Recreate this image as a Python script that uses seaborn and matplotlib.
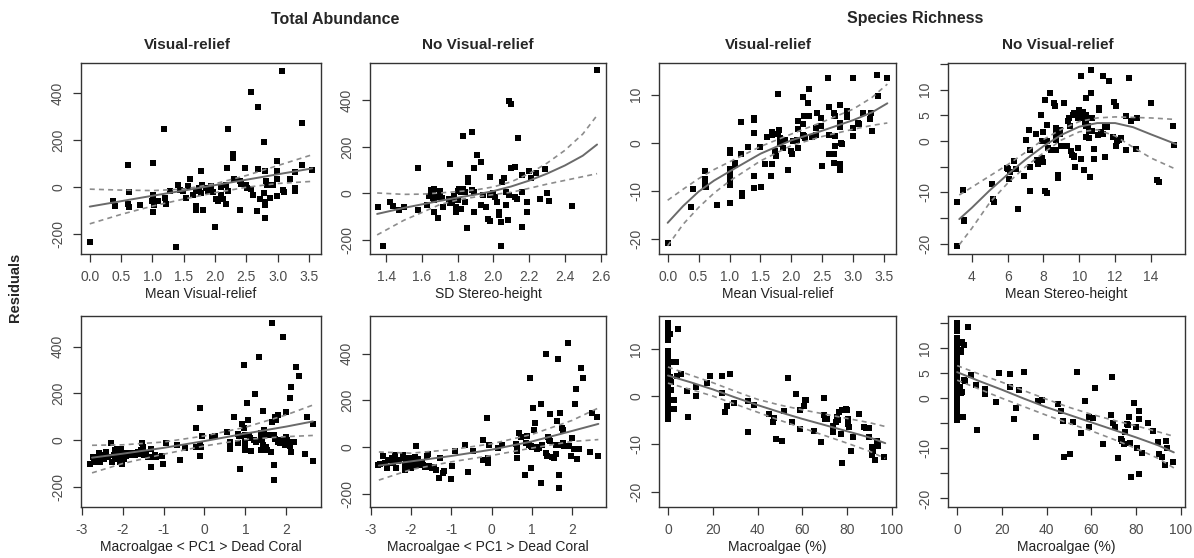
import numpy as np
import pandas as pd
import seaborn as sns
from matplotlib import pyplot as plt

# ---- Total abundance, visual-relief sites ----
ta_vr_x = [0.01, 0.37, 0.41, 0.61, 0.63, 0.61, 0.63, 0.8, 1.01, 1.01, 1.01, 1.0, 1.02, 1.09, 1.18, 1.2,
           1.22, 1.28, 1.38, 1.41, 1.44, 1.49, 1.54, 1.57, 1.6, 1.65, 1.7, 1.7, 1.7, 1.74, 1.77, 1.79,
           1.78, 1.8, 1.85, 1.89, 1.93, 2.0, 1.97, 2.01, 2.05, 2.09, 2.1, 2.13, 2.18, 2.19, 2.2, 2.21,
           2.18, 2.29, 2.29, 2.3, 2.39, 2.39, 2.41, 2.47, 2.49, 2.51, 2.58, 2.58, 2.61, 2.67, 2.68, 2.69,
           2.71, 2.78, 2.79, 2.79, 2.78, 2.79, 2.8, 2.82, 2.83, 2.88, 2.93, 2.98, 2.98, 2.99, 2.99, 3.07,
           3.09, 3.1, 3.19, 3.27, 3.27, 3.28, 3.38, 3.38, 3.54]
ta_vr_y = [-232, -59, -81, 96, -20, -73, -85, -76, 103, -105, -31, -59, -76, -59, 245, -45,
           -71, -17, -254, 11, -10, -17, -45, 4, 37, -31, -17, -81, -95, -3, -24, 8,
           68, -95, -3, -17, 4, -168, -20, -48, -59, -31, 0, -49, 11, 82, 249, -17,
           -69, 139, 122, 33, -98, 28, 14, 82, 8, -3, 403, -6, -31, -99, 341, 79,
           -48, 192, 68, -130, -24, -62, -76, 25, 8, -45, 11, 110, -38, 68, 33, 495,
           -10, -20, 33, 64, -3, -14, 273, 96, 75]
ta_vr_cx = [0.0, 0.5, 1.0, 1.5, 2.0, 2.5, 3.0, 3.55]
ta_vr_fit = [-82, -59, -36, -14, 9, 32, 55, 80]
ta_vr_hi = [-8, -12, -14, -8, 15, 50, 92, 138]
ta_vr_lo = [-155, -115, -80, -50, -23, 0, 16, 25]

# ---- Total abundance, no visual-relief sites ----
ta_nv_x = [1.357, 1.38, 1.42, 1.44, 1.47, 1.5, 1.58, 1.58, 1.63, 1.64, 1.65, 1.65, 1.66, 1.66, 1.67,
           1.67, 1.67, 1.68, 1.69, 1.7, 1.7, 1.71, 1.72, 1.76, 1.77, 1.78, 1.78, 1.79, 1.79, 1.8, 1.81,
           1.82, 1.83, 1.83, 1.84, 1.84, 1.85, 1.86, 1.86, 1.88, 1.88, 1.89, 1.89, 1.89, 1.91, 1.93,
           1.93, 1.94, 1.96, 1.97, 1.98, 1.98, 1.98, 2.0, 2.01, 2.02, 2.03, 2.03, 2.04, 2.04, 2.05, 2.06,
           2.07, 2.07, 2.08, 2.09, 2.1, 2.09, 2.1, 2.12, 2.12, 2.13, 2.14, 2.16, 2.16, 2.16, 2.19, 2.19,
           2.2, 2.21, 2.24, 2.26, 2.29, 2.3, 2.31, 2.44, 2.58, 1.75, 1.76, 1.8, 1.82]
ta_nv_y = [-58, -224, -36, -53, -72, -58, 108, -72, -50, -10, 15, -5, -20, 5, -30,
           20, -80, -15, -105, 0, 10, -20, -58, 127, -36, -22, -10, -58, -80, 10, 20,
           -65, 245, 20, 7, -36, -149, 65, 50, 263, 15, 5, 108, -80, 165, 134,
           -50, -7, -58, -108, -118, -7, 72, 0, -15, -36, -80, -94, -227, -122, 50, 65,
           7, -50, -115, 397, 382, -7, 108, -15, 115, -22, 238, 79, 7, -144, -36, -80,
           97, 65, 87, -22, 105, 4, -32, -53, 531, -25, -40, -30, 5]
ta_nv_cx = [1.35, 1.5, 1.6, 1.7, 1.8, 1.9, 2.0, 2.1, 2.2, 2.3, 2.4, 2.5, 2.58]
ta_nv_fit = [-88, -62, -47, -32, -18, -5, 10, 30, 55, 85, 120, 162, 210]
ta_nv_hi = [2, -4, -3, 2, 8, 15, 28, 50, 85, 130, 185, 255, 335]
ta_nv_lo = [-178, -115, -82, -48, -28, -15, -5, 5, 22, 40, 56, 72, 85]

# ---- Species richness, visual-relief sites ----
sr_vr_x = [0.0, 0.38, 0.41, 0.6, 0.6, 0.6, 0.62, 0.8, 1.0, 1.0, 1.0, 1.0, 1.0, 1.0, 1.0, 1.0,
           1.09, 1.09, 1.19, 1.19, 1.2, 1.2, 1.3, 1.39, 1.4, 1.39, 1.39, 1.39, 1.49, 1.51, 1.58, 1.6,
           1.67, 1.68, 1.69, 1.69, 1.74, 1.75, 1.78, 1.79, 1.8, 1.81, 1.81, 1.87, 1.9, 1.95, 2.0, 2.01,
           2.02, 2.09, 2.1, 2.1, 2.1, 2.18, 2.19, 2.19, 2.2, 2.21, 2.22, 2.27, 2.29, 2.29, 2.33, 2.39,
           2.39, 2.41, 2.48, 2.48, 2.49, 2.59, 2.6, 2.6, 2.6, 2.68, 2.68, 2.69, 2.7, 2.7, 2.71, 2.78,
           2.78, 2.79, 2.78, 2.79, 2.8, 2.81, 2.9, 2.9, 2.99, 3.0, 3.0, 3.08, 3.09, 3.16, 3.27, 3.28,
           3.3, 3.4, 3.38, 3.54]
sr_vr_y = [-21.0, -13.4, -9.6, -6.0, -7.5, -8.9, -9.2, -13.0, -1.5, -2.2, -5.5, -6.6, -7.6, -8.7, -8.9, -12.5,
           -4.2, -4.7, 4.3, -2.3, -10.4, -11.1, -1.0, 5.2, 4.7, 2.0, -7.0, -9.4, -1.0, -9.2, -4.5, 1.2,
           -7.0, -4.5, 2.3, 1.7, -1.7, -2.8, 1.9, 10.1, 2.6, 1.0, -0.3, -1.2, 0.5, -5.8, -1.7, -2.4,
           0.3, 0.5, -1.2, 2.8, 4.5, 9.5, 3.8, 1.7, 1.3, 5.6, 0.9, 8.3, 11.1, 5.6, 1.2, 3.1,
           1.7, 6.2, 5.2, 3.5, -4.9, 13.4, 7.4, 1.7, -2.4, -2.4, -4.2, 6.2, 5.6, -0.7, 1.4, 7.8,
           4.0, 3.3, -4.5, -5.6, 0.0, -0.3, 6.6, 5.3, 13.4, 3.0, 1.4, 4.2, 3.8, 6.2, 4.9, 6.2,
           2.4, 9.7, 14.2, 13.4]
sr_vr_cx = [0.0, 0.25, 0.5, 0.75, 1.0, 1.5, 2.0, 2.5, 3.0, 3.3, 3.55]
sr_vr_fit = [-16.7, -13.2, -10.2, -7.9, -6.0, -2.3, 0.5, 2.5, 4.7, 6.3, 8.2]
sr_vr_hi = [-12.0, -9.7, -7.5, -5.6, -4.0, -0.8, 1.8, 4.3, 7.0, 9.4, 12.2]
sr_vr_lo = [-21.5, -17.0, -13.5, -10.5, -8.0, -3.8, -0.6, 1.3, 2.8, 3.6, 4.1]

# ---- Species richness, no visual-relief sites ----
sr_nv_x = [3.17, 3.17, 3.48, 3.54, 3.58, 5.14, 5.2, 5.25, 5.94, 6.0, 6.07, 6.12, 6.36, 6.44, 6.58,
           6.92, 7.03, 7.2, 7.23, 7.23, 7.23, 7.6, 7.63, 7.7, 7.87, 7.91, 7.9, 7.97, 8.0, 8.06, 8.2,
           8.1, 8.2, 8.24, 8.2, 8.39, 8.43, 8.6, 8.67, 8.7, 8.7, 8.7, 8.7, 8.7, 8.83, 8.8, 8.9, 8.92,
           8.98, 9.17, 9.2, 9.3, 9.35, 9.44, 9.5, 9.53, 9.57, 9.63, 9.72, 9.68, 9.72, 9.76, 9.9, 9.94,
           9.9, 10.0, 10.05, 10.12, 10.18, 10.12, 10.27, 10.3, 10.35, 10.4, 10.4, 10.4, 10.4, 10.5,
           10.52, 10.55, 10.6, 10.64, 10.68, 10.7, 10.7, 10.83, 10.8, 11.07, 11.1, 11.12, 11.2, 11.3,
           11.32, 11.42, 11.43, 11.5, 11.55, 11.66, 11.93, 11.9, 12.03, 12.03, 12.1, 12.2, 12.3,
           12.58, 12.63, 12.76, 12.86, 13.19, 13.22, 14.0, 14.33, 14.46, 15.22, 15.3]
sr_nv_y = [-11.8, -20.4, -9.6, -15.4, -15.5, -8.3, -11.2, -11.9, -5.3, -5.5, -7.4, -6.1, -3.9, -5.4, -13.3,
           -6.9, 0.3, 2.2, -1.8, -5.1, -9.8, 1.3, -3.7, -4.4, 5.1, 0.1, -3.4, -4.0, 1.7, -9.8, -10.1,
           7.9, 0.0, -1.3, 3.2, 9.3, -1.7, 7.4, 6.9, 0.3, 1.3, 2.0, 2.6, -1.8, -6.7, -7.2, 2.2, 1.3,
           -1.0, 7.5, -1.0, -1.0, 3.9, 4.4, 3.0, -2.0, -2.7, 5.0, 5.4, -3.0, -3.2, -5.1, 4.4, 5.4,
           -1.3, 6.1, 4.4, -3.5, 5.7, 12.7, -5.7, 3.7, 3.0, 0.8, 4.0, 5.1, 8.4, 3.0,
           2.0, 0.5, -7.1, 9.3, 13.8, 4.4, 2.0, -1.5, -3.5, 1.1, 6.4, 6.1, 1.7, 1.3,
           12.7, 3.0, -3.2, 2.7, 2.7, 11.6, 7.7, 0.7, 6.9, -1.0, 0.0, 0.3, 0.5,
           -1.7, 4.9, 12.3, 4.0, -1.5, 4.4, 7.4, -7.6, -7.9, 2.9, -0.7]
sr_nv_cx = [3.3, 4.0, 5.0, 6.0, 7.0, 8.0, 9.0, 10.0, 11.0, 12.0, 13.0, 14.0, 15.4]
sr_nv_fit = [-15.2, -13.0, -9.6, -6.5, -3.6, -1.0, 1.2, 2.8, 3.5, 3.5, 2.7, 1.3, -0.6]
sr_nv_hi = [-10.5, -9.0, -6.8, -4.6, -2.2, 0.3, 2.3, 3.8, 4.5, 4.7, 4.6, 4.5, 4.2]
sr_nv_lo = [-20.2, -17.0, -12.0, -8.2, -5.0, -2.3, 0.2, 1.8, 2.2, 1.0, -1.2, -3.3, -5.5]

# ---- Total abundance vs PC1, visual-relief sites ----
ta_pc_vr_x = [-2.81, -2.73, -2.7, -2.62, -2.6, -2.58, -2.56, -2.48, -2.45, -2.41, -2.37, -2.29, -2.27,
              -2.22, -2.2, -2.18, -2.13, -2.1, -2.08, -2.06, -2.04, -2.02, -1.98, -1.95, -1.93, -1.88,
              -1.84, -1.81, -1.77, -1.71, -1.67, -1.63, -1.59, -1.55, -1.52, -1.51, -1.47, -1.43, -1.38,
              -1.3, -1.3, -1.26, -1.22, -1.18, -1.03, -1.01, -0.93, -0.68, -0.6, -0.48, -0.21, -0.21,
              -0.12, -0.12, -0.11, -0.08, -0.07, 0.18, 0.26, 0.54, 0.63, 0.63, 0.63, 0.72, 0.82, 0.84,
              0.82, 0.86, 0.9, 0.92, 0.96, 0.96, 0.98, 1.0, 1.0, 1.0, 1.05, 1.06, 1.09, 1.11, 1.15,
              1.21, 1.24, 1.25, 1.33, 1.38, 1.38, 1.4, 1.39, 1.42, 1.44, 1.46, 1.46, 1.5, 1.54, 1.58,
              1.62, 1.66, 1.66, 1.69, 1.69, 1.72, 1.75, 1.71, 1.73, 1.8, 1.8, 1.84, 1.88, 1.91, 1.91,
              1.95, 1.97, 1.99, 2.0, 2.02, 2.04, 2.08, 2.1, 2.12, 2.12, 2.18, 2.24, 2.3, 2.45, 2.51,
              2.65, 2.65]
ta_pc_vr_y = [-103, -71, -93, -71, -83, -57, -93, -64, -79, -50, -71, -11, -93,
              -64, -43, -81, -36, -50, -71, -93, -36, -100, -79, -57, -69, -54,
              -64, -57, -53, -64, -57, -50, -60, -43, -14, -29, -64, -60, -71,
              -36, -117, -71, -64, -71, -67, -103, -11, -21, -86, -33, 50, -29,
              139, -67, -21, -29, 17, 14, 19, 36, -7, -21, -40, 100, 26, 17,
              -14, -124, 17, 71, 321, 50, 21, -7, -21, -43, 157, 86, 21, 11, -47,
              0, 197, -7, 354, 29, 14, 0, -43, -21, 126, 43, 21, -29, -43, 21,
              -50, 500, 79, -107, -171, 100, 86, 21, 7, 107, -7, -14, 0, 443, -7,
              -14, -21, 121, 14, 0, -7, 179, -26, -50, 229, -10, 314, 274, -60, 97,
              69, -90]
ta_pc_vr_cx = [-2.75, -2.0, -1.0, 0.0, 1.0, 2.0, 2.65]
ta_pc_vr_fit = [-75, -58, -33, -4, 28, 58, 80]
ta_pc_vr_hi = [-22, -20, -8, 18, 55, 108, 150]
ta_pc_vr_lo = [-140, -100, -60, -25, 3, 15, 20]

# ---- Total abundance vs PC1, no visual-relief sites ----
ta_pc_nv_x = [-2.81, -2.78, -2.69, -2.65, -2.59, -2.57, -2.48, -2.46, -2.4, -2.38, -2.32, -2.3, -2.2,
              -2.16, -2.16, -2.16, -2.12, -2.1, -2.09, -2.07, -2.02, -2.01, -1.99, -1.99, -1.95, -1.93,
              -1.91, -1.88, -1.84, -1.82, -1.79, -1.74, -1.7, -1.66, -1.6, -1.58, -1.55, -1.52, -1.47,
              -1.44, -1.39, -1.31, -1.29, -1.21, -1.18, -1.0, -0.98, -0.92, -0.67, -0.59, -0.47, -0.22,
              -0.22, -0.12, -0.1, -0.08, -0.06, 0.17, 0.27, 0.6, 0.62, 0.62, 0.62, 0.68, 0.72, 0.83,
              0.85, 0.89, 0.93, 0.95, 0.97, 0.99, 1.01, 1.03, 1.05, 1.08, 1.09, 1.13, 1.18, 1.22, 1.22,
              1.26, 1.34, 1.36, 1.38, 1.41, 1.42, 1.44, 1.46, 1.5, 1.54, 1.59, 1.6, 1.63, 1.65, 1.67,
              1.67, 1.69, 1.71, 1.74, 1.76, 1.77, 1.8, 1.9, 1.92, 1.96, 2.0, 2.04, 2.08, 2.1, 2.12, 2.16,
              2.22, 2.26, 2.45, 2.49, 2.62, 2.63]
ta_pc_nv_y = [-75, -72, -36, -68, -89, -53, -46, -68, -32, -89, -60, -53, -32,
              -46, -75, -96, -60, -68, -79, -89, -46, -82, -89, -68, -57, -75,
              -43, 4, -50, -60, -75, -68, -75, -82, -39, -29, -78, -82, -89,
              -86, -96, -132, -46, -111, -101, -137, -78, -17, 9, -104, -14, 33,
              -53, 127, -46, -68, 12, -3, 12, 16, 4, -17, -46, 62, 43, -118,
              19, 47, 12, 296, -89, 7, 0, 167, 76, 105, 3, -9, -3, 184, -154,
              12, 400, -25, -39, 43, 33, 141, 26, -40, -46, 12, -30, 112, 378, -118,
              -175, 12, 148, 83, 76, 18, 4, 446, 7, -36, 40, -6, 187, 249, -50, -6,
              338, 295, -20, 148, 130, -39]
ta_pc_nv_cx = [-2.8, -2.0, -1.0, 0.0, 1.0, 2.0, 2.65]
ta_pc_nv_fit = [-78, -60, -37, -10, 25, 70, 100]
ta_pc_nv_hi = [-20, -25, -10, 15, 55, 115, 168]
ta_pc_nv_lo = [-140, -95, -62, -35, -3, 25, 33]

# ---- Species richness vs macroalgae, visual-relief sites ----
sr_ma_vr_x = [0.0] * 27 + [1.0, 2.0, 2.5, 1.5, 0.7, 1.2, 2.9, 3.4, 2.8, 2.8, 4.7, 4.0, 5.9,
              8.5, 8.8, 12.5, 12.5, 17.6, 18.7, 24.0, 24.0, 25.4, 26.5, 27.9, 29.7, 35.7, 35.7, 38.2,
              45.1, 47.0, 47.5, 48.1, 50.7, 51.8, 53.7, 55.4, 57.0, 58.8, 59.1, 60.6, 61.0, 61.8,
              65.1, 68.1, 69.6, 69.6, 70.3, 71.0, 73.5, 73.5, 73.5, 75.0, 75.4, 76.0, 76.5, 77.2,
              77.6, 77.9, 78.7, 79.4, 80.0, 80.4, 80.4, 80.9, 81.6, 82.4, 85.3, 87.5, 88.2, 89.7,
              89.7, 90.9, 91.2, 91.6, 92.6, 93.4, 93.6, 93.8, 96.6]
sr_ma_vr_y = [15.5, 14.8, 14.0, 13.3, 12.6, 11.8, 9.5, 8.8, 8.1, 7.4, 6.7, 5.9, 5.3, 4.6, 3.9, 3.2,
              2.5, 1.8, 1.1, 0.4, -0.3, -1.0, -1.8, -2.5, -3.2, -3.9, -4.7] + [
              13.1, 7.2, 7.2, 1.3, 4.1, 3.0, 7.2, 7.2, -0.7, -2.6, 14.2, 4.4, 4.8,
              1.1, -4.4, 2.0, 0.2, 2.8, 4.2, 4.4, 0.7, -3.3, -1.9, 4.8, -1.4, -1.0, -7.5, -1.8,
              -3.6, -5.4, -4.5, -8.9, -9.4, -3.1, 3.9, -5.4, 0.6, -2.9, -6.8, -1.9, -0.7, -0.7,
              -7.2, -9.6, -0.3, -3.8, -4.7, -4.7, -6.1, -6.8, -7.5, -5.4, -4.4, -4.9, -3.3, -7.9,
              -14.0, -2.9, -2.8, -2.6, -2.8, -4.7, -5.8, -6.3, -11.4, -8.6, -3.6, -6.5, -6.6, -6.6,
              -8.6, -10.7, -12.2, -11.4, -13.3, -9.3, -10.0, -10.3, -12.8]
sr_ma_vr_cx = [0, 10, 20, 30, 40, 50, 60, 70, 80, 90, 97]
sr_ma_vr_fit = [4.4, 3.0, 1.5, -0.2, -1.8, -3.3, -4.7, -6.0, -7.3, -8.6, -9.8]
sr_ma_vr_hi = [6.2, 4.5, 2.9, 1.1, -0.6, -1.8, -2.8, -3.7, -4.6, -5.5, -6.3]
sr_ma_vr_lo = [2.8, 1.5, 0.1, -1.6, -3.3, -5.0, -6.6, -8.2, -9.8, -11.5, -13.0]

# ---- Species richness vs macroalgae, no visual-relief sites ----
sr_ma_nv_x = [0.0] * 26 + [0.7, 1.5, 2.2, 2.9, 1.5, 1.8, 1.2, 1.5, 2.2, 2.9, 3.7, 2.6, 4.7, 6.2,
              8.5, 8.8, 12.5, 12.5, 17.6, 18.8, 23.8, 23.8, 25.3, 26.2, 27.6, 29.7, 35.3, 36.0, 38.2,
              45.3, 46.3, 47.4, 47.9, 50.7, 51.9, 53.7, 55.6, 57.1, 58.8, 59.1, 61.0, 61.8, 65.4,
              68.8, 69.4, 69.9, 70.6, 72.1, 73.5, 73.8, 74.7, 75.3, 76.2, 76.5, 76.8, 77.6, 77.9,
              79.1, 80.1, 80.6, 81.2, 81.2, 81.6, 82.6, 85.6, 87.8, 90.0, 90.4, 91.6, 92.9, 93.4,
              93.8, 96.8]
sr_ma_nv_y = [15.1, 14.4, 13.4, 12.0, 11.2, 10.4, 9.6, 8.9, 8.1, 7.4, 6.7, 6.0, 5.2, 4.5, 3.8, 3.0,
              2.3, 1.6, 0.9, 0.1, -0.6, -1.3, -2.1, -2.8, -3.5, -4.3] + [
              11.3, 11.1, 11.3, 10.7, 9.3, 9.6, 2.2, 1.0, 1.2, 3.6, 3.4, -3.8, 14.2, 4.6,
              2.6, -6.4, 1.9, 0.9, -0.8, 5.1, 4.8, 2.3, -4.2, -1.9, 1.7, 5.2, -7.7, -0.5, -0.3,
              -1.1, -2.5, -4.6, -11.7, -11.1, -4.8, 5.2, -7.0, -0.6, -3.7, -5.7, -4.0, 2.1, -9.1,
              -3.3, 4.2, -5.0, -5.7, -11.9, -8.1, -8.5, -9.1, -6.8, -5.2, -5.4, -3.8, -8.9, -15.8,
              -1.0, -5.8, -9.9, -2.5, -4.2, -15.2, -10.9, -5.0, -6.5, -8.7, -11.1, -11.7, -13.4, -8.5,
              -9.9, -12.7]
sr_ma_nv_cx = [0, 10, 20, 30, 40, 50, 60, 70, 80, 90, 97]
sr_ma_nv_fit = [5.2, 3.4, 1.7, -0.1, -1.8, -3.3, -4.8, -6.3, -7.8, -9.4, -10.8]
sr_ma_nv_hi = [6.5, 4.8, 3.2, 1.5, -0.2, -1.8, -3.2, -4.4, -5.5, -6.7, -7.6]
sr_ma_nv_lo = [3.6, 1.8, 0.0, -1.7, -3.4, -5.0, -6.5, -8.2, -10.0, -12.0, -13.9]

# ---- Axis settings ----
x_labels = ["Mean Visual-relief", "SD Stereo-height", "Mean Visual-relief", "Mean Stereo-height",
            "Macroalgae < PC1 > Dead Coral", "Macroalgae < PC1 > Dead Coral",
            "Macroalgae (%)", "Macroalgae (%)"]
vr_ticks = [0.0, 0.5, 1.0, 1.5, 2.0, 2.5, 3.0, 3.5]
vr_tick_labels = ["0.0", "0.5", "1.0", "1.5", "2.0", "2.5", "3.0", "3.5"]
sd_ticks = [1.4, 1.6, 1.8, 2.0, 2.2, 2.4, 2.6]
sd_tick_labels = ["1.4", "1.6", "1.8", "2.0", "2.2", "2.4", "2.6"]
sh_ticks = [4, 6, 8, 10, 12, 14]
pc_ticks = [-3, -2, -1, 0, 1, 2]
ma_ticks = [0, 20, 40, 60, 80, 100]
ab_yticks = [-200, 0, 200, 400]
sr_yticks = [-20, -10, 0, 10]
sr5_yticks = [-20, -15, -10, -5, 0, 5, 10, 15]
sr5_ylabels = ["-20", "", "-10", "", "0", "5", "10", ""]


def as_labels(vals):
    return [str(v) for v in vals]


panels = [
    (ta_vr_x, ta_vr_y, ta_vr_cx, ta_vr_fit, ta_vr_hi, ta_vr_lo,
     (-0.14, 3.69), (-283, 527), vr_ticks, vr_tick_labels, ab_yticks, as_labels(ab_yticks)),
    (ta_nv_x, ta_nv_y, ta_nv_cx, ta_nv_fit, ta_nv_hi, ta_nv_lo,
     (1.31, 2.63), (-260, 560), sd_ticks, sd_tick_labels, ab_yticks, as_labels(ab_yticks)),
    (sr_vr_x, sr_vr_y, sr_vr_cx, sr_vr_fit, sr_vr_hi, sr_vr_lo,
     (-0.14, 3.69), (-23.2, 16.6), vr_ticks, vr_tick_labels, sr_yticks, as_labels(sr_yticks)),
    (sr_nv_x, sr_nv_y, sr_nv_cx, sr_nv_fit, sr_nv_hi, sr_nv_lo,
     (2.67, 15.9), (-22.0, 15.2), sh_ticks, as_labels(sh_ticks), sr5_yticks, sr5_ylabels),
    (ta_pc_vr_x, ta_pc_vr_y, ta_pc_vr_cx, ta_pc_vr_fit, ta_pc_vr_hi, ta_pc_vr_lo,
     (-3.02, 2.85), (-286, 531), pc_ticks, as_labels(pc_ticks), ab_yticks, as_labels(ab_yticks)),
    (ta_pc_nv_x, ta_pc_nv_y, ta_pc_nv_cx, ta_pc_nv_fit, ta_pc_nv_hi, ta_pc_nv_lo,
     (-3.02, 2.84), (-255, 561), pc_ticks, as_labels(pc_ticks), ab_yticks, as_labels(ab_yticks)),
    (sr_ma_vr_x, sr_ma_vr_y, sr_ma_vr_cx, sr_ma_vr_fit, sr_ma_vr_hi, sr_ma_vr_lo,
     (-4.0, 101.8), (-23.2, 16.9), ma_ticks, as_labels(ma_ticks), sr_yticks, as_labels(sr_yticks)),
    (sr_ma_nv_x, sr_ma_nv_y, sr_ma_nv_cx, sr_ma_nv_fit, sr_ma_nv_hi, sr_ma_nv_lo,
     (-4.1, 102.0), (-21.7, 16.4), ma_ticks, as_labels(ma_ticks), sr5_yticks, sr5_ylabels),
]

sns.set_style("ticks")
plt.rcParams["font.family"] = ["Liberation Sans", "DejaVu Sans"]
plt.rcParams["axes.unicode_minus"] = False

W, H = 1194, 558
fig = plt.figure(figsize=(W / 100, H / 100), dpi=100)

# Panel boxes in pixels (left, right) and (top, bottom)
cols = [(81, 321), (370, 606), (659, 896), (948, 1185)]
rows = [(63, 254), (316, 507)]


def draw_panel(axis, p, xlabel):
    x, y, cx, fit, hi, lo, xlim, ylim, xt, xtl, yt, ytl = p
    sns.scatterplot(x=x, y=y, marker="s", s=14, color="black", linewidth=0, ax=axis)
    curves = pd.DataFrame({"x": cx, "fit": fit, "hi": hi, "lo": lo})
    sns.lineplot(data=curves, x="x", y="fit", color="#6a6a6a", lw=1.4, ax=axis)
    sns.lineplot(data=curves, x="x", y="hi", color="#8c8c8c", lw=1.2, ls=(0, (3, 2.5)), ax=axis)
    sns.lineplot(data=curves, x="x", y="lo", color="#8c8c8c", lw=1.2, ls=(0, (3, 2.5)), ax=axis)
    axis.set_xlim(xlim)
    axis.set_ylim(ylim)
    axis.set_xticks(xt)
    axis.set_xticklabels(xtl)
    axis.set_yticks(yt)
    axis.set_yticklabels(ytl, rotation=90, va="center")
    axis.set_xlabel(xlabel, fontsize=10, color="#222222", labelpad=2)
    axis.set_ylabel("")
    for s in axis.spines.values():
        s.set_visible(True)
        s.set_color("#333333")
        s.set_linewidth(1.0)
    axis.tick_params(direction="out", length=5.5, width=0.9, color="#333333",
                     labelsize=10, labelcolor="#4d4d4d", pad=6)
    axis.grid(False)


for i, p in enumerate(panels):
    r, c = divmod(i, 4)
    left, right = cols[c]
    top, bottom = rows[r]
    ax = fig.add_axes([left / W, (H - bottom) / H, (right - left) / W, (bottom - top) / H])
    draw_panel(ax, p, x_labels[i])

# Headers
fig.text(335 / W, 1 - 19 / H, "Total Abundance", ha="center", va="center", fontsize=11.5, fontweight="bold")
fig.text(915 / W, 1 - 19 / H, "Species Richness", ha="center", va="center", fontsize=11.5, fontweight="bold")
for xc, t in zip([187, 478, 768, 1058], ["Visual-relief", "No Visual-relief", "Visual-relief", "No Visual-relief"]):
    fig.text(xc / W, 1 - 45 / H, t, ha="center", va="center", fontsize=11, fontweight="bold")
fig.text(15 / W, 1 - 287 / H, "Residuals", ha="center", va="center", rotation=90,
         fontsize=10.5, fontweight="bold")

fig.savefig("out.png", dpi=100)
